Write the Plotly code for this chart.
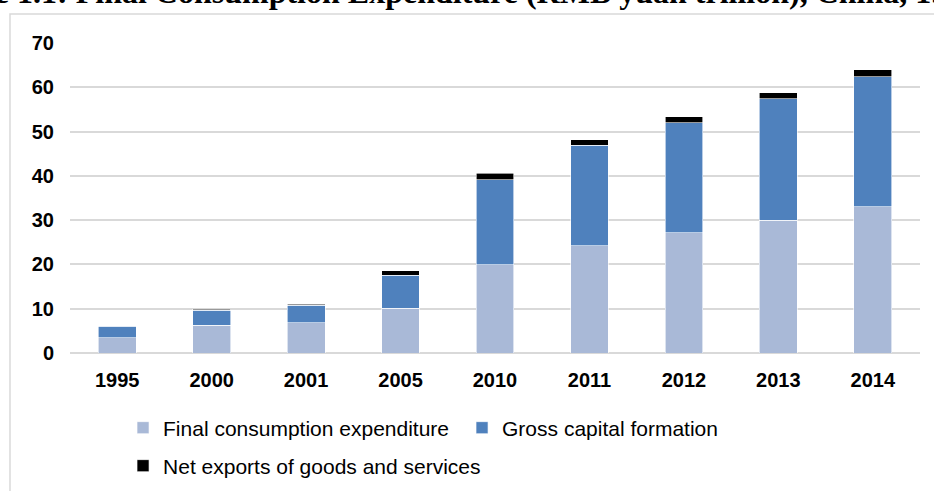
import plotly.graph_objects as go

# Chart data (RMB yuan trillion)
years = ['1995', '2000', '2001', '2005', '2010', '2011', '2012', '2013', '2014']
final_consumption = [3.5, 6.3, 6.8, 10.1, 19.9, 24.2, 27.2, 30.0, 33.0]
gross_capital = [2.5, 3.3, 4.0, 7.5, 19.2, 22.7, 24.8, 27.4, 29.4]
net_exports = [0.1, 0.3, 0.2, 1.0, 1.5, 1.2, 1.4, 1.4, 1.6]
y_ticks = [0, 10, 20, 30, 40, 50, 60, 70]

title_text = 'Figure 1.1: Final Consumption Expenditure (RMB yuan trillion), China, 1995-2014'


def create_chart():
    fig = go.Figure()

    fig.add_trace(go.Bar(
        x=years, y=final_consumption, name='Final consumption expenditure',
        marker=dict(color='#A9B9D7', line=dict(color='#FFFFFF', width=0.6)),
        legend='legend'
    ))
    fig.add_trace(go.Bar(
        x=years, y=gross_capital, name='Gross capital formation',
        marker=dict(color='#4F81BD', line=dict(color='#FFFFFF', width=0.6)),
        legend='legend'
    ))
    fig.add_trace(go.Bar(
        x=years, y=net_exports, name='Net exports of goods and services',
        marker=dict(color='#000000', line=dict(color='#FFFFFF', width=0.6)),
        legend='legend2'
    ))

    legend_font = dict(family='Liberation Sans, Arial, sans-serif', size=21, color='#000000')

    fig.update_layout(
        barmode='stack',
        bargap=0.6,
        width=934, height=491,
        margin=dict(l=70, r=14, t=43, b=138, autoexpand=False),
        paper_bgcolor='#FFFFFF',
        plot_bgcolor='#FFFFFF',
        font=dict(family='Liberation Sans, Arial, sans-serif', color='#000000'),
        xaxis=dict(
            tickfont=dict(size=20, color='#000000', weight='bold'),
            showgrid=False, showline=False, ticks='', ticklabelstandoff=13,
            automargin=False,
        ),
        yaxis=dict(
            range=[0, 70], tickvals=y_ticks,
            tickfont=dict(size=20, color='#000000', weight='bold'),
            showgrid=True, gridcolor='#D9D9D9', gridwidth=1.5,
            zeroline=True, zerolinecolor='#D9D9D9', zerolinewidth=1.5,
            ticks='', ticklabelstandoff=15, automargin=False,
        ),
        legend=dict(
            orientation='h', x=0.0624, y=-0.242, xanchor='left', yanchor='middle',
            font=legend_font, entrywidth=294, traceorder='normal',
            bgcolor='rgba(0,0,0,0)',
        ),
        legend2=dict(
            orientation='h', x=0.0624, y=-0.3645, xanchor='left', yanchor='middle',
            font=legend_font, bgcolor='rgba(0,0,0,0)',
        ),
        shapes=[dict(
            type='rect', xref='paper', yref='paper',
            x0=-0.0706, y0=-0.6, x1=1.1, y1=1.0935,
            line=dict(color='#D9D9D9', width=1.5), layer='below',
        )],
        annotations=[dict(
            text=title_text, xref='paper', yref='paper',
            x=-0.180, y=1.101, xanchor='left', yanchor='bottom',
            showarrow=False,
            font=dict(family='Liberation Serif, Times New Roman, serif', size=32,
                      color='#000000', weight='bold'),
        )],
    )
    return fig


if __name__ == '__main__':
    fig = create_chart()
    # drop the default page margin so the figure sits at the window's corner
    fig.write_html('out.html', config={'displayModeBar': False},
                   post_script="document.body.style.margin='0';")
